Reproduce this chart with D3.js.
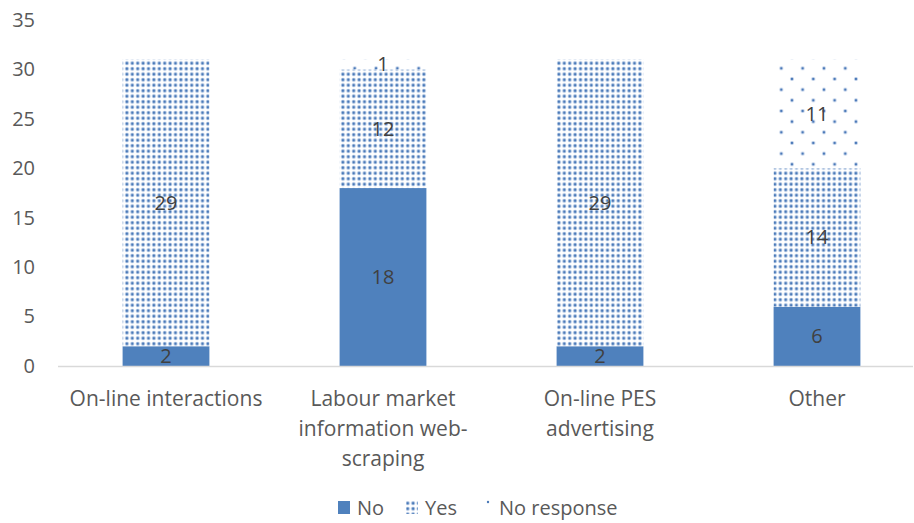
<!DOCTYPE html>
<html>
<head>
<meta charset="utf-8">
<script src="https://cdn.jsdelivr.net/npm/d3@7"></script>
<style>
  html, body { margin: 0; padding: 0; background: #fff; }
  svg { display: block; font-family: "Open Sans", sans-serif; }
</style>
</head>
<body>
<svg id="chart" width="914" height="523"></svg>
<script>
// Survey answers per tool type
const categories = ["On-line interactions", "Labour market information web-scraping", "On-line PES advertising", "Other"];
const categoryLines = [["On-line interactions"], ["Labour market", "information web-", "scraping"], ["On-line PES", "advertising"], ["Other"]];
const seriesNames = ["No", "Yes", "No response"];
const noValues = [2, 18, 2, 6];
const yesValues = [29, 12, 29, 14];
const noResponseValues = [0, 1, 0, 11];
const yTicks = [0, 5, 10, 15, 20, 25, 30, 35];

const rows = categories.map((c, i) => ({
  category: c,
  "No": noValues[i],
  "Yes": yesValues[i],
  "No response": noResponseValues[i]
}));

const svg = d3.select("#chart");
const defs = svg.append("defs");

// Dense dot fill for "Yes"
const pYes = defs.append("pattern").attr("id", "pat-yes")
  .attr("patternUnits", "userSpaceOnUse").attr("width", 5.4).attr("height", 5.5);
pYes.append("rect").attr("width", 5.4).attr("height", 5.5).attr("fill", "#fff");
pYes.append("circle").attr("cx", 2.7).attr("cy", 2.75).attr("r", 2.1).attr("fill", "#bccfe8");
pYes.append("circle").attr("cx", 2.7).attr("cy", 2.75).attr("r", 1.3).attr("fill", "#4a79b8");

// Sparse dot fill for "No response"
const nrStep = 21.33;
const pNR = defs.append("pattern").attr("id", "pat-nr")
  .attr("patternUnits", "userSpaceOnUse").attr("width", nrStep).attr("height", nrStep)
  .attr("x", 781.3).attr("y", 68.3);
pNR.append("rect").attr("width", nrStep).attr("height", nrStep).attr("fill", "#fff");
[[0, 0], [nrStep, 0], [0, nrStep], [nrStep, nrStep], [nrStep / 2, nrStep / 2]].forEach(([x, y]) => {
  pNR.append("circle").attr("cx", x).attr("cy", y).attr("r", 2.0).attr("fill", "#c3d3ea");
  pNR.append("circle").attr("cx", x).attr("cy", y).attr("r", 1.2).attr("fill", "#4a79b8");
});

const fills = { "No": "#4f81bd", "Yes": "url(#pat-yes)", "No response": "url(#pat-nr)" };

const x = d3.scaleBand().domain(categories).range([57.5, 925.5]).paddingInner(0.6).paddingOuter(0.3);
const y = d3.scaleLinear().domain([0, 35]).range([366, 20]);

// Y axis labels
const yAxis = svg.append("g").attr("transform", "translate(35,0)")
  .call(d3.axisLeft(y).tickValues(yTicks).tickSize(0).tickPadding(0));
yAxis.select(".domain").remove();
yAxis.selectAll("text").attr("font-size", 20).attr("fill", "#595959")
  .attr("font-family", "'Open Sans', sans-serif");

const stack = d3.stack().keys(seriesNames);
const layers = stack(rows);

const g = svg.append("g");
layers.forEach(layer => {
  g.append("g").selectAll("rect").data(layer).join("rect")
    .attr("x", d => x(d.data.category))
    .attr("width", x.bandwidth())
    .attr("y", d => y(d[1]))
    .attr("height", d => y(d[0]) - y(d[1]))
    .attr("fill", fills[layer.key]);
});

// Baseline
svg.append("line").attr("x1", 58).attr("x2", 913).attr("y1", y(0) + 0.5).attr("y2", y(0) + 0.5)
  .attr("stroke", "#d9d9d9").attr("stroke-width", 1.5);

// Value labels
layers.forEach(layer => {
  g.append("g").selectAll("text").data(layer.filter(d => d[1] - d[0] > 0)).join("text")
    .attr("x", d => x(d.data.category) + x.bandwidth() / 2)
    .attr("y", d => y((d[0] + d[1]) / 2))
    .attr("dy", "0.35em")
    .attr("text-anchor", "middle")
    .attr("font-size", 20)
    .attr("fill", "#404040")
    .text(d => d[1] - d[0]);
});

// Category labels
const xl = svg.append("g");
categories.forEach((c, i) => {
  const t = xl.append("text")
    .attr("x", x(c) + x.bandwidth() / 2)
    .attr("y", 405.5)
    .attr("text-anchor", "middle")
    .attr("font-size", 21)
    .attr("fill", "#595959");
  categoryLines[i].forEach((line, j) => {
    t.append("tspan").attr("x", x(c) + x.bandwidth() / 2).attr("dy", j === 0 ? 0 : 30).text(line);
  });
});

// Legend
const legend = svg.append("g");
const legendItems = [
  { key: "No", sx: 338, tx: 357 },
  { key: "Yes", sx: 406, tx: 425 },
  { key: "No response", sx: 486, tx: 499 }
];
legendItems.forEach(it => {
  if (it.key === "No response") {
    legend.append("circle").attr("cx", it.sx + 2).attr("cy", 502).attr("r", 1.2).attr("fill", "#4a79b8");
  } else {
    legend.append("rect").attr("x", it.sx).attr("y", 501).attr("width", 12).attr("height", 13)
      .attr("fill", fills[it.key]);
  }
  legend.append("text").attr("x", it.tx).attr("y", 508).attr("dy", "0.35em")
    .attr("font-size", 20).attr("fill", "#595959").text(it.key);
});
</script>
</body>
</html>
